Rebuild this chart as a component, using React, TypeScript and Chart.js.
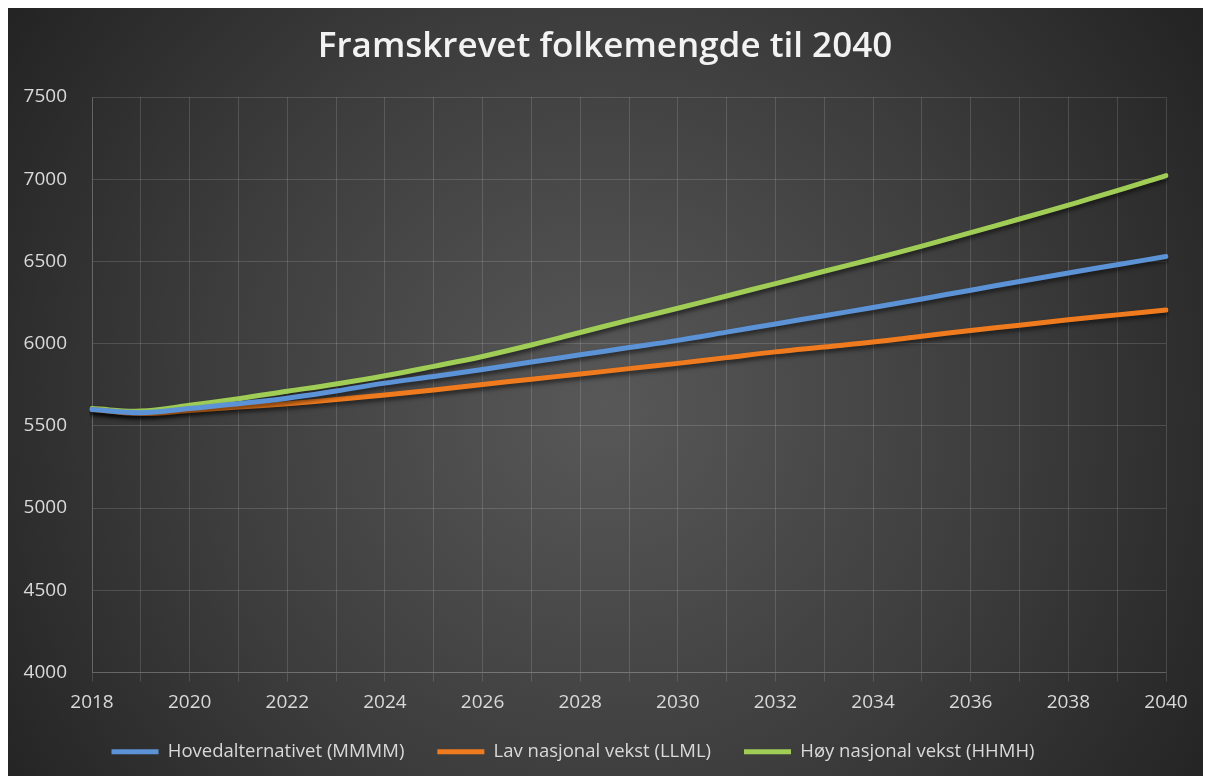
import React, { useEffect, useRef } from "react";
import { Chart, registerables } from "chart.js";

Chart.register(...registerables);

const years = [
  "2018", "2019", "2020", "2021", "2022", "2023", "2024", "2025", "2026", "2027", "2028",
  "2029", "2030", "2031", "2032", "2033", "2034", "2035", "2036", "2037", "2038", "2039", "2040",
];

const hovedalternativet = [
  5600, 5580, 5605, 5635, 5668, 5712, 5760, 5800, 5843, 5888, 5932,
  5976, 6020, 6070, 6120, 6170, 6220, 6272, 6325, 6378, 6430, 6480, 6530,
];

const lavVekst = [
  5600, 5575, 5593, 5614, 5635, 5660, 5688, 5718, 5752, 5784, 5815,
  5848, 5880, 5915, 5950, 5980, 6010, 6045, 6080, 6112, 6145, 6175, 6205,
];

const hoyVekst = [
  5605, 5590, 5625, 5665, 5710, 5755, 5805, 5862, 5922, 5992, 6068,
  6143, 6215, 6290, 6365, 6440, 6515, 6593, 6675, 6758, 6843, 6930, 7022,
];

const seriesNames = [
  "Hovedalternativet (MMMM)",
  "Lav nasjonal vekst (LLML)",
  "Høy nasjonal vekst (HHMH)",
];

const chartTitle = "Framskrevet folkemengde til 2040";

const FONT = "'Open Sans', 'DejaVu Sans', sans-serif";
const TEXT = "#d9d9d9";
const GRID = "rgba(255,255,255,0.14)";

const backgroundPlugin = {
  id: "bgGradient",
  beforeDraw(chart: any) {
    const { ctx, width, height } = chart;
    ctx.save();
    const g = ctx.createRadialGradient(595, 400, 0, 595, 400, 720);
    g.addColorStop(0, "#585858");
    g.addColorStop(0.55, "#3d3d3d");
    g.addColorStop(1, "#232323");
    ctx.fillStyle = g;
    ctx.fillRect(0, 0, width, height);
    ctx.restore();
  },
};

const shadowPlugin = {
  id: "lineShadow",
  beforeDatasetDraw(chart: any) {
    const ctx = chart.ctx;
    ctx.save();
    ctx.shadowColor = "rgba(0,0,0,0.55)";
    ctx.shadowBlur = 4;
    ctx.shadowOffsetX = 1;
    ctx.shadowOffsetY = 3;
  },
  afterDatasetDraw(chart: any) {
    chart.ctx.restore();
  },
};

// nudge title / legend boxes horizontally to match the original composition
const boxShiftPlugin = {
  id: "boxShift",
  afterLayout(chart: any) {
    const t = chart.titleBlock;
    if (t) {
      t.left += 18;
      t.right += 18;
    }
    const l = chart.legend;
    if (l) {
      l.left -= 14;
      l.right -= 14;
    }
  },
};

export default function App() {
  const canvasRef = useRef<HTMLCanvasElement | null>(null);

  useEffect(() => {
    if (!canvasRef.current) return;
    const mk = (label: string, data: number[], color: string) => ({
      label,
      data,
      borderColor: color,
      backgroundColor: color,
      borderWidth: 5,
      borderCapStyle: "round" as const,
      borderJoinStyle: "round" as const,
      pointRadius: 0,
      pointHoverRadius: 0,
      pointStyle: "line" as const,
      tension: 0.4,
      fill: false,
    });
    const chart = new Chart(canvasRef.current, {
      type: "line",
      data: {
        labels: years,
        datasets: [
          mk(seriesNames[0], hovedalternativet, "#5b93d6"),
          mk(seriesNames[1], lavVekst, "#f07b1e"),
          mk(seriesNames[2], hoyVekst, "#9fcd56"),
        ],
      },
      plugins: [backgroundPlugin, shadowPlugin, boxShiftPlugin],
      options: {
        animation: false,
        responsive: false,
        maintainAspectRatio: false,
        layout: { padding: { left: 0, right: 45, top: 0, bottom: 5 } },
        plugins: {
          title: {
            display: true,
            text: chartTitle,
            color: "#f2f2f2",
            font: { family: FONT, size: 35, weight: 600 },
            padding: { top: 18, bottom: 29 },
          },
          legend: {
            position: "bottom",
            labels: {
              color: TEXT,
              font: { family: FONT, size: 18.5 },
              usePointStyle: true,
              pointStyleWidth: 47,
              boxHeight: 18,
              padding: 33,
            },
          },
          tooltip: { enabled: false },
        },
        scales: {
          x: {
            type: "category",
            clip: false,
            grid: {
              color: GRID,
              lineWidth: 1,
              drawTicks: true,
              tickLength: 9,
              tickColor: GRID,
            },
            border: { color: GRID },
            ticks: {
              color: TEXT,
              font: { family: FONT, size: 19 },
              autoSkip: false,
              maxRotation: 0,
              padding: 10,
              callback: (_v: any, i: number) => (i % 2 === 0 ? years[i] : ""),
            },
            afterFit: (scale: any) => {
              scale.height = 37;
            },
          },
          y: {
            min: 4000,
            max: 7500,
            grid: { color: GRID, lineWidth: 1, drawTicks: false },
            border: { color: GRID },
            ticks: {
              stepSize: 500,
              color: TEXT,
              font: { family: FONT, size: 19 },
              padding: 25,
              callback: (v: any) => String(v),
            },
            afterFit: (scale: any) => {
              scale.width = 84;
            },
          },
        },
      },
    } as any);
    return () => chart.destroy();
  }, []);

  return (
    <div style={{ width: 1203, height: 768 }}>
      <canvas ref={canvasRef} width={1203} height={768} style={{ display: "block" }} />
    </div>
  );
}
